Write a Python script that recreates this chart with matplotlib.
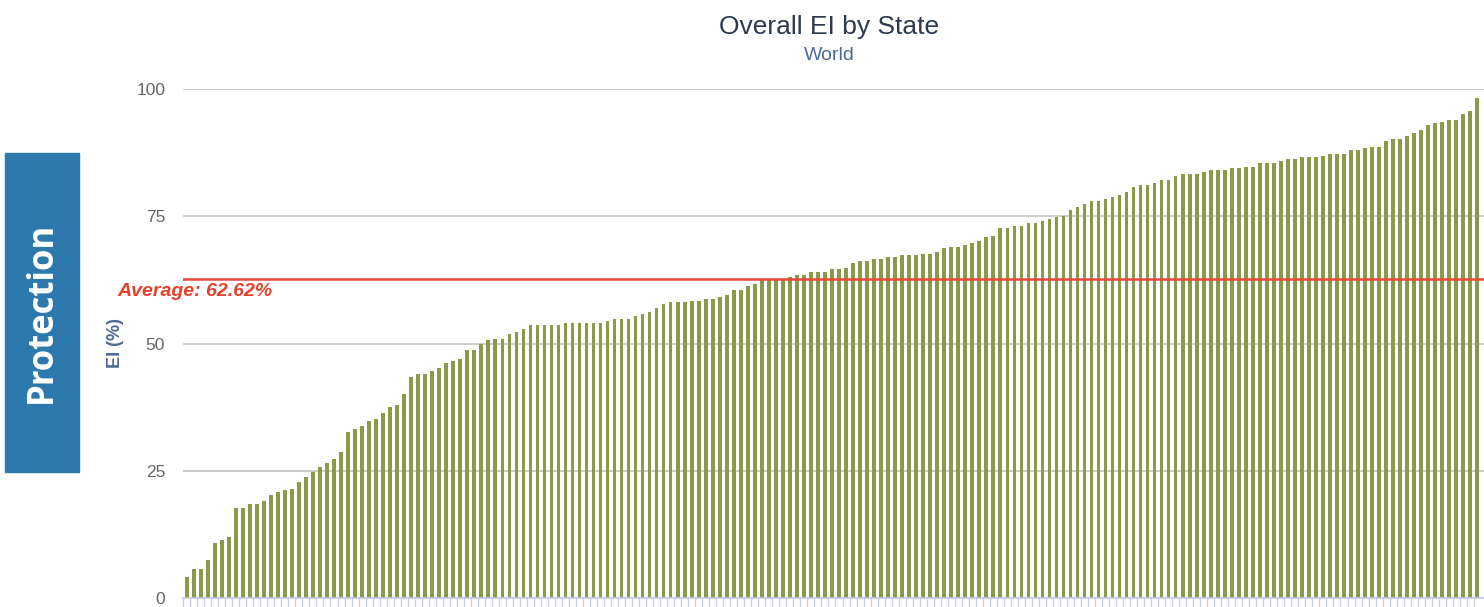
import matplotlib.pyplot as plt
import numpy as np

# EI (%) per state, sorted ascending in four chunks
ei_low = [4.2, 5.6, 5.6, 7.5, 10.9, 11.3, 12.0, 17.7, 17.7, 18.5, 18.5, 19.1,
          20.2, 20.9, 21.2, 21.5, 22.7, 23.7, 24.8, 25.8, 26.6, 27.3, 28.7,
          32.7, 33.3, 33.7, 34.8, 35.1, 36.3, 37.6, 37.9, 40.1,
          43.4, 44.0, 44.0, 44.5, 45.1, 46.1, 46.6, 46.9, 48.7, 48.7, 50.0,
          50.6, 50.8, 50.8, 51.9]
ei_mid = [52.3, 52.9, 53.7, 53.7, 53.7, 53.7, 53.7, 54.1, 54.1, 54.1, 54.1,
          54.1, 54.1, 54.4, 54.8, 54.8, 54.8, 55.4, 55.8, 56.1, 57.0, 57.8,
          58.1, 58.1, 58.1, 58.4, 58.4, 58.7, 58.7, 59.2, 59.5, 60.5, 60.5,
          61.3, 61.7, 62.5, 62.5, 62.5, 62.5, 63.0, 63.4, 63.4, 64.0, 64.0, 64.0]
ei_upper = [64.6, 64.6, 64.8, 65.9, 66.3, 66.3, 66.6, 66.6, 66.9, 66.9, 67.3,
            67.3, 67.3, 67.6, 67.6, 68.0, 68.7, 69.0, 69.0, 69.4, 69.8, 70.2,
            70.9, 71.2, 72.6, 72.6, 73.0, 73.0, 73.7, 73.7, 74.1, 74.4, 74.8,
            75.1, 76.2, 76.9, 77.5, 78.0, 78.0, 78.3, 78.7, 79.1, 79.8, 80.8,
            81.2, 81.2]
ei_high = [81.6, 82.2, 82.2, 82.9, 83.3, 83.3, 83.3, 83.7, 84.1, 84.1, 84.1,
           84.4, 84.4, 84.7, 84.7, 85.5, 85.5, 85.5, 85.9, 86.2, 86.2, 86.6,
           86.6, 86.6, 86.9, 87.3, 87.3, 87.3, 88.0, 88.0, 88.4, 88.7, 88.7,
           89.8, 90.1, 90.1, 90.8, 91.3, 91.9, 92.9, 93.3, 93.6, 94.0, 94.0,
           95.1, 95.7, 98.2]
average = 62.62
y_ticks = [0, 25, 50, 75, 100]

values = np.array(ei_low + ei_mid + ei_upper + ei_high)
x = np.arange(len(values))

W, H = 1484, 607
fig = plt.figure(figsize=(W / 100, H / 100), dpi=100)
plt.rcParams['font.family'] = ['Liberation Sans', 'DejaVu Sans']

left_px, right_px, top_px, bot_px = 183.2, 1484, 89, 598
ax = fig.add_axes([left_px / W, 1 - bot_px / H,
                   (right_px - left_px) / W, (bot_px - top_px) / H])

ax.bar(x, values, width=0.52, color='#8a9a4a', zorder=2)
ax.axhline(average, color='#e8473a', lw=1.8, zorder=3)

ax.set_xlim(-0.5, 184.96)
ax.set_ylim(0, 100)
ax.set_yticks(y_ticks)
ax.grid(axis='y', color='#cccccc', lw=1.4, zorder=0)
ax.set_axisbelow(True)
for s in ['top', 'right', 'left']:
    ax.spines[s].set_visible(False)
ax.spines['bottom'].set_color('#c8cbea')
ax.spines['bottom'].set_linewidth(1.2)
ax.set_xticks(x - 0.5)
ax.set_xticklabels([])
ax.tick_params(axis='x', length=8, color='#c8cbea', width=1)
ax.tick_params(axis='y', length=0, pad=13, labelsize=12.5, labelcolor='#666666')

fig.text(116 / W, 1 - 343 / H, 'EI (%)', rotation=90, ha='center', va='center',
         fontsize=13, fontweight='bold', color='#4d6a95')

fig.text(829 / W, 1 - 27 / H, 'Overall EI by State', ha='center', va='center',
         fontsize=19, color='#2b3a4e')
fig.text(829 / W, 1 - 55 / H, 'World', ha='center', va='center',
         fontsize=14, color='#4a6a9a')
fig.text(117 / W, 1 - 292 / H, 'Average: 62.62%', ha='left', va='center',
         fontsize=14, fontweight='bold', fontstyle='italic', color='#e8402a')

# blue side tab
fig.patches.append(plt.Rectangle((5 / W, 1 - 472 / H), 74 / W, 319 / H,
                                 transform=fig.transFigure, color='#2d79ae'))
fig.text(42 / W, 1 - 312 / H, 'Protection', rotation=90, ha='center', va='center',
         fontsize=25, fontweight='bold', color='white', family=['Open Sans', 'DejaVu Sans'])

fig.savefig('out.png', dpi=100)
